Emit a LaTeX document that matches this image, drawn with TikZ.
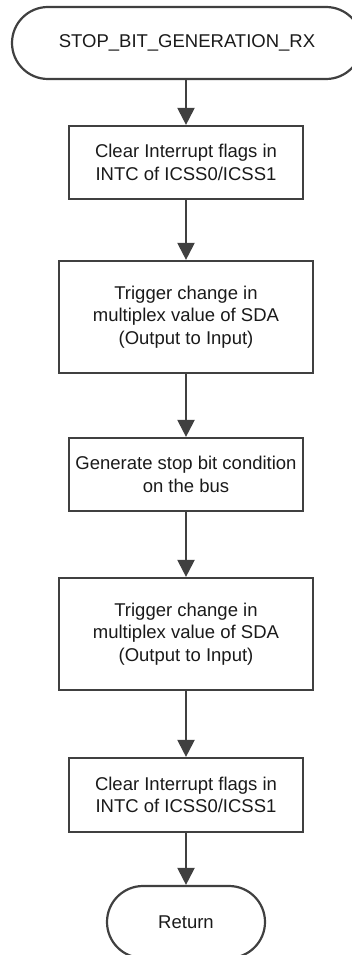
\documentclass[tikz,border=0pt]{standalone}
\usepackage{fontspec}
\setmainfont{Liberation Sans}
\usetikzlibrary{arrows.meta,shapes.misc}
\definecolor{linegray}{HTML}{404040}
\definecolor{textdark}{HTML}{1A1A1A}
\tikzset{
  base/.style={draw=linegray, line width=2.2pt, inner sep=0pt, align=center,
    text=textdark, font=\fontsize{18.5}{22.5}\selectfont},
  procbox/.style={base, rectangle},
  terminal/.style={base, rounded rectangle, minimum height=72pt},
  flow/.style={draw=linegray, line width=2.2pt,
    -{Triangle[length=17pt,width=17pt]}, fill=linegray}
}
\begin{document}
\begin{tikzpicture}[x=1pt,y=-1pt]
  \useasboundingbox (0,0) rectangle (352,955);
  \clip (0,0) rectangle (352,955);

  \node[terminal, minimum width=350pt] (start) at (187,43) {STOP\_BIT\_GENERATION\_RX};
  \node[procbox, minimum width=234pt, minimum height=73pt] (clr1) at (186,162.5)
    {Clear Interrupt flags in\\INTC of ICSS0/ICSS1};
  \node[procbox, minimum width=254pt, minimum height=112pt] (mux1) at (186,317)
    {Trigger change in\\multiplex value of SDA\\(Output to Input)};
  \node[procbox, minimum width=234pt, minimum height=73pt] (stop) at (186,474.5)
    {Generate stop bit condition\\on the bus};
  \node[procbox, minimum width=254pt, minimum height=112pt] (mux2) at (186,634)
    {Trigger change in\\multiplex value of SDA\\(Output to Input)};
  \node[procbox, minimum width=234pt, minimum height=74pt] (clr2) at (186,795)
    {Clear Interrupt flags in\\INTC of ICSS0/ICSS1};
  \node[terminal, minimum width=158pt] (ret) at (186,922) {Return};

  \draw[flow] (start.south -| clr1.north) -- (clr1.north);
  \draw[flow] (clr1) -- (mux1);
  \draw[flow] (mux1) -- (stop);
  \draw[flow] (stop) -- (mux2);
  \draw[flow] (mux2) -- (clr2);
  \draw[flow] (clr2) -- (ret);
\end{tikzpicture}
\end{document}
